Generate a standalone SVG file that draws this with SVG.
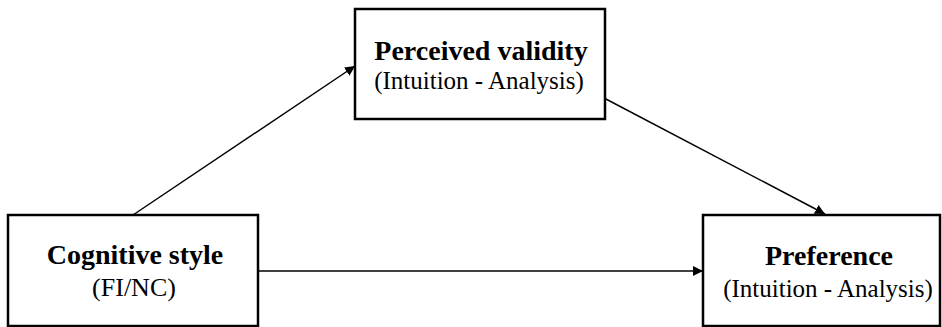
<svg xmlns="http://www.w3.org/2000/svg" width="942" height="327" viewBox="0 0 942 327">
<style>
.box{fill:#fff;stroke:#000;stroke-width:2.5}
.t{font-family:"Liberation Serif","Times New Roman",serif;fill:#000;text-anchor:middle}
.b{font-weight:bold;font-size:28px}
.r{font-size:25px}
.c{stroke:#000;stroke-width:1.5;fill:none;marker-end:url(#ah)}
</style>
<defs>
<marker id="ah" viewBox="0 0 10 10" refX="10" refY="5" markerWidth="10" markerHeight="10" markerUnits="userSpaceOnUse" orient="auto">
<path d="M0,0 L10,5 L0,10 z" fill="#000"/>
</marker>
</defs>
<g id="connectors">
<line class="c" x1="133" y1="215" x2="355" y2="66"/>
<line class="c" x1="604" y1="98" x2="825" y2="214"/>
<line class="c" x1="258" y1="271" x2="703" y2="271"/>
</g>
<g id="perceived">
<rect class="box" x="355" y="9" width="250" height="110"/>
<text class="t b" x="481" y="60">Perceived validity</text>
<text class="t r" x="479" y="89">(Intuition - Analysis)</text>
</g>
<g id="cognitive">
<rect class="box" x="8" y="215" width="250" height="111"/>
<text class="t b" x="135" y="264">Cognitive style</text>
<text class="t r" x="134" y="296" style="font-size:26px">(FI/NC)</text>
</g>
<g id="preference">
<rect class="box" x="703" y="215" width="237" height="111"/>
<text class="t b" x="829" y="265">Preference</text>
<text class="t r" x="828" y="297">(Intuition - Analysis)</text>
</g>
</svg>
